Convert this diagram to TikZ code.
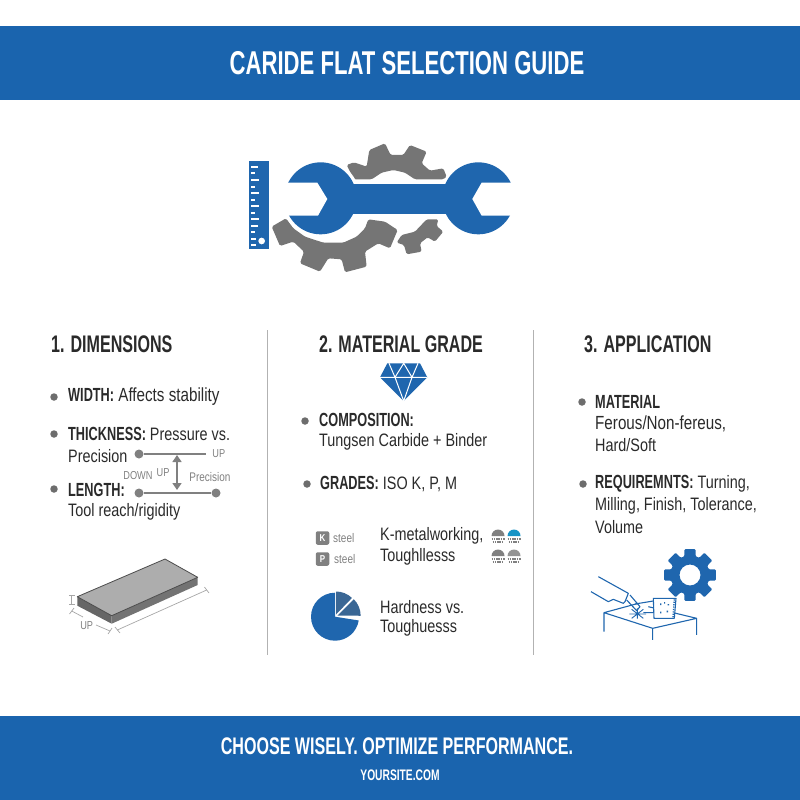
\documentclass[tikz,border=0pt]{standalone}
\usepackage{fontspec}
\setmainfont[FakeStretch=0.8]{Liberation Sans}
\newfontfamily\condfont[FakeStretch=0.67]{Liberation Sans}
\usetikzlibrary{positioning, arrows.meta}
\definecolor{bannerblue}{HTML}{1A64AE}
\definecolor{iconblue}{HTML}{1F66AE}
\definecolor{geargray}{HTML}{757575}
\definecolor{inkdark}{HTML}{2A2A2A}
\definecolor{inkgray}{HTML}{808080}
\newcommand{\boldcond}[1]{{\condfont\bfseries\fontsize{19}{19}\selectfont #1}}
\tikzset{
    banner/.style={fill=bannerblue, draw=none}, % Top and bottom bands
    title/.style={text=white, font=\condfont\bfseries\fontsize{33}{33}\selectfont},
    heading/.style={text=inkdark, font=\condfont\bfseries\fontsize{24}{24}\selectfont},
    body/.style={text=inkdark, anchor=west, inner sep=0pt, font=\fontsize{18}{18}\selectfont},
    widebody/.style={body, font=\fontsize{19}{19}\selectfont},
    bullet/.style={circle, fill=inkgray!85!black, inner sep=0pt, minimum size=7.5pt},
    smalldot/.style={circle, fill=inkgray, inner sep=0pt, minimum size=9pt},
    small/.style={text=inkgray, inner sep=0pt, font=\fontsize{12.5}{12.5}\selectfont},
    tiny/.style={text=inkgray, inner sep=0pt, font=\fontsize{11.5}{11.5}\selectfont},
    divider/.style={draw=black!30, line width=1pt},
    thin line/.style={draw=inkgray, line width=1.2pt},
    dimline/.style={draw=black!35, line width=0.7pt},
    sketch/.style={draw=iconblue, line width=1.1pt, line join=round},
    badge/.style={fill=inkgray, text=white, rounded corners=2pt, minimum size=13.5pt, inner sep=0pt, font=\bfseries\fontsize{10}{10}\selectfont}
}
\begin{document}
\begin{tikzpicture}[x=1pt, y=-1pt]
    \useasboundingbox (0,0) rectangle (800,800);
    % bands
    \fill[banner] (0,26) rectangle (800,100);
    \fill[banner] (0,716) rectangle (800,800);
    \node[title] (maintitle) at (407,63) {CARIDE FLAT SELECTION GUIDE};
    \node[title, font=\condfont\bfseries\fontsize{24}{24}\selectfont] (slogan) at (397,746) {CHOOSE WISELY. OPTIMIZE PERFORMANCE.};
    \node[title, font=\condfont\bfseries\fontsize{15.3}{15.3}\selectfont] (site) at (400,775) {YOURSITE.COM};

    % logo, traced in 3x crop units
    \begin{scope}[shift={(230,120)}, x=0.3333pt, y=-0.3333pt]
        \fill[geargray, rounded corners=1.5pt] (168,295) -- (125,320) -- (150,378) -- (190,365) -- (222,395) -- (210,430) -- (270,455) -- (295,415) -- (335,418) -- (345,457) -- (410,440) -- (405,395) -- (445,370) -- (480,385) -- (503,330) -- (465,305) -- (415,298)
            -- (405,325) -- (380,350) -- (340,368) -- (280,368) -- (225,350) -- (190,325) -- cycle;
        \fill[geargray, rounded corners=1.5pt] (590,298) -- (625,298) -- (620,318) -- (640,335) -- (615,365) -- (593,352) -- (570,370) -- (575,395) -- (530,403) -- (522,375) -- (500,368) -- (515,345) -- (555,335) -- cycle;
        \fill[geargray, rounded corners=1.5pt] (350,135) -- (372,127) -- (410,140) -- (418,90) -- (465,70) -- (482,105) -- (520,105) -- (540,75) -- (590,95) -- (575,130) -- (600,152) -- (640,145) -- (650,170) -- (640,178) -- (555,178) -- (525,158) -- (490,150) -- (455,158) -- (425,178) -- (372,178) -- cycle;
        % wrench
        \fill[white] (272,235) circle (118);
        \fill[iconblue] (272,235) circle (108);
        \fill[iconblue] (745,235) circle (108);
        \fill[iconblue] (340,193) rectangle (680,283);
        \fill[white] (150,188) -- (262,188) -- (292,237) -- (264,287) -- (150,287) -- cycle;
        \fill[white] (870,188) -- (755,188) -- (727,237) -- (755,287) -- (870,287) -- cycle;
        % ruler
        \fill[iconblue] (57,124) rectangle (116,388);
        \foreach \y/\w in {141/22,160/12,180/24,200/12,220/24,240/12,259/24,278/12,298/24,317/22,337/12,356/14,376/14}
            \draw[white, line width=1.8pt] (63,\y) -- ++(\w,0);
        \fill[white] (95,363) circle (10);
    \end{scope}

    % columns
    \draw[divider] (267,330) -- (267,655);
    \draw[divider] (533,330) -- (533,655);
    \node[heading, anchor=west, inner sep=0pt] (dimhead) at (51,344) {1. DIMENSIONS};
    \node[heading] (gradehead) at (401,344) {2. MATERIAL GRADE};
    \node[heading, anchor=west, inner sep=0pt] (apphead) at (584,344) {3. APPLICATION};

    % column 1
    \node[bullet] (b1) at (54,397) {};
    \node[widebody] (width) at (68,397) {\boldcond{WIDTH:} Affects stability};
    \node[bullet] (b2) at (54,434) {};
    \node[body] (thick) at (68,434) {\boldcond{THICKNESS:} Pressure vs.};
    \node[body] (prec) at (68,456) {Precision};
    \node[bullet] (b3) at (54,489) {};
    \node[body] (length) at (68,490) {\boldcond{LENGTH:}};
    \node[body] (reach) at (68,512) {Tool reach/rigidity};

    \node[smalldot] (d1) at (139,454) {};
    \node[tiny, right=68.5pt of d1] (upa) {UP};
    \node[smalldot] (d2) at (139,493) {};
    \node[smalldot] (d3) at (216,493) {};
    \coordinate (arrtop) at (177,455);
    \coordinate (arrbot) at (177,490);
    \draw[thin line, shorten >=6pt] (d1) -- (upa);
    \draw[thin line] (d2) -- (d3);
    \draw[inkgray, line width=1.4pt, {Triangle[length=7pt,width=9pt]}-{Triangle[length=7pt,width=9pt]}] (arrtop) -- (arrbot);
    \node[tiny] (down) at (138,476) {DOWN};
    \node[tiny] (upb) at (163,473) {UP};
    \node[small] (precb) at (210,477) {Precision};

    % slab
    \fill[black!60] (77.3,596.7) -- (111.7,615.7) -- (111.7,623.7) -- (77.3,605.7) -- cycle;
    \fill[black!55] (111.7,615.7) -- (197.7,577.3) -- (197.7,585) -- (111.7,623.7) -- cycle;
    \fill[black!32] (77.3,596.7) -- (165,559) -- (197.7,577.3) -- (111.7,615.7) -- cycle;
    \draw[black!70, line width=0.8pt, line join=round] (77.3,596.7) -- (165,559) -- (197.7,577.3) -- (111.7,615.7) -- cycle;
    \coordinate (ta) at (71.7,595);
    \coordinate (tb) at (71.7,605);
    \draw[dimline, |-|] (ta) -- (tb);
    \node[tiny] (upc) at (86.7,626) {UP};
    \coordinate (wa) at (71.7,611);
    \coordinate (wb) at (110,631);
    \coordinate (la) at (117.3,630);
    \coordinate (lb) at (206.7,590);
    \draw[dimline] (wa) -- (83,617);
    \draw[dimline] (96,625) -- (wb);
    \draw[dimline] (69.5,614) -- (74,608);
    \draw[dimline] (108,634) -- (112,628);
    \draw[dimline] (la) -- (lb);
    \draw[dimline] (115,627) -- (120,633);
    \draw[dimline] (204.5,587) -- (209,593);

    % column 2
    \fill[iconblue] (387.3,363.3) -- (420,363.3) -- (427.3,377.3) -- (403.7,401) -- (380,377.3) -- cycle;
    \draw[white, line width=1pt] (380,377.3) -- (427.3,377.3)
        (395,377.3) -- (403.7,401) -- (412,377.3)
        (389,363.3) -- (395,377.3) -- (403.7,363.3) -- (412,377.3) -- (418,363.3);
    \node[bullet] (b4) at (305,421) {};
    \node[body] (comp) at (319,420) {\boldcond{COMPOSITION:}};
    \node[body] (tung) at (319,442) {Tungsen Carbide + Binder};
    \node[bullet] (b5) at (307,484) {};
    \node[body] (grades) at (320,484) {\boldcond{GRADES:} ISO K, P, M};

    \node[badge] (kbox) at (322.5,538) {K};
    \node[small, anchor=west] (ksteel) at (333,538) {steel};
    \node[badge] (pbox) at (322.5,559) {P};
    \node[small, anchor=west] (psteel) at (334,559) {steel};
    \node[body] (kmetal) at (380,536) {K-metalworking,};
    \node[body] (tough) at (380,557) {Toughllesss};
    \foreach \x/\y/\c in {498/537/inkgray, 514/537/iconblue!70!cyan, 498/557/inkgray, 514/557/inkgray!85}{
        \fill[\c] (\x-6.5,\y-1) arc[start angle=180, end angle=0, radius=6.5pt] -- cycle;
        \draw[inkgray, line width=1.4pt, dash pattern=on 1.5pt off 0.8pt] (\x-6.5,\y+2) -- ++(13,0) (\x-5.5,\y+5) -- ++(11,0);
    }

    % pie
    \fill[iconblue] (335,616.7) -- (335,592.7) arc[start angle=90, end angle=351, radius=24pt] -- cycle;
    \fill[iconblue!75!black!85] (336,614.5) -- (336,591.5) arc[start angle=90, end angle=46, radius=23pt] -- cycle;
    \fill[iconblue!75!black!85] (337.3,615.7) -- (353.8,599.2) arc[start angle=45, end angle=0, radius=23.4pt] -- cycle;
    \node[body] (hard) at (380,607) {Hardness vs.};
    \node[body] (toughb) at (380,628) {Toughuesss};

    % column 3
    \node[bullet] (b6) at (582,402) {};
    \node[body] (mat) at (595,402) {\boldcond{MATERIAL}};
    \node[widebody] (ferous) at (595,424) {Ferous/Non-fereus,};
    \node[body] (soft) at (595,445) {Hard/Soft};
    \node[bullet] (b7) at (583,484) {};
    \node[body] (req) at (595,484) {\boldcond{REQUIREMNTS:} Turning,};
    \node[body] (mill) at (595,506) {Milling, Finish, Tolerance,};
    \node[body] (vol) at (595,527) {Volume};

    % gear and workbench
    \begin{scope}[shift={(690,575)}]
        \fill[iconblue, rounded corners=1pt, even odd rule] (-17:19.5) \foreach \a in {0,45,...,315}{ -- (\a-17:19.5) -- (\a-12:26.5) -- (\a+12:26.5) -- (\a+17:19.5)} -- cycle (0,0) circle (10.5);
    \end{scope}
    \begin{scope}[shift={(580,540)}, x=0.3333pt, y=-0.3333pt]
        \draw[sketch] (72,275) -- (72,218) -- (175,190) (205,200) -- (350,235) -- (218,265) -- (72,218) (218,265) -- (218,300) (350,235) -- (350,285);
        \draw[sketch] (55,110) -- (145,160) -- (135,185) -- (130,190) -- (100,178) -- (85,185) -- (33,155);
        \draw[sketch] (140,180) -- (170,212) -- (180,200) -- (150,165);
        \draw[sketch] (165,192) -- (220,183) (190,218) -- (222,218);
        \draw[sketch, line width=0.9pt] (172,205) -- (172,236) (148,222) -- (198,222) (155,208) -- (190,235) (190,208) -- (155,235);
        \draw[sketch, fill=white] (220,175) -- (288,175) -- (283,235) -- (222,235) -- cycle;
        \draw[iconblue, line width=1.4pt, dash pattern=on 1.2pt off 1.2pt] (283,178) -- (279,232);
        \fill[iconblue] (240,190) rectangle ++(4,5) (252,186) rectangle ++(3,5) (263,192) rectangle ++(4,4) (240,215) rectangle ++(4,5) (260,212) rectangle ++(4,5);
    \end{scope}
\end{tikzpicture}
\end{document}
